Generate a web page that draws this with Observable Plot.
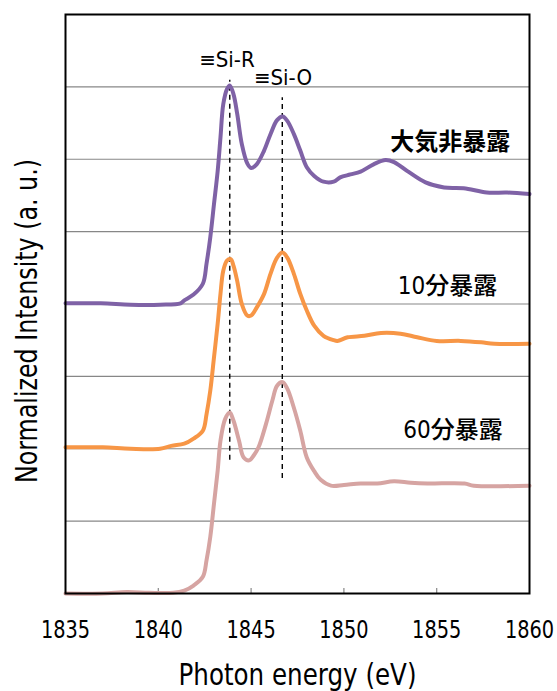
<!DOCTYPE html>
<html><head><meta charset="utf-8">
<script src="https://cdn.jsdelivr.net/npm/d3@7"></script>
<script src="https://cdn.jsdelivr.net/npm/@observablehq/plot@0.6"></script>
<style>body{margin:0;background:#fff}</style>
</head><body><div id="chart"></div>
<script>
const energyPurple = [1835,1836.9,1838.5,1840.1,1841.2,1841.4,1841.9,1842.4,1842.6,1842.8,1843.0,1843.2,1843.35,1843.5,1843.7,1843.85,1844.05,1844.25,1844.5,1844.8,1845.0,1845.3,1845.7,1846.05,1846.4,1846.7,1846.95,1847.3,1847.65,1848.0,1848.4,1848.9,1849.45,1849.8,1850.35,1850.9,1851.6,1852.25,1852.7,1853.4,1854.4,1855.4,1856.45,1857.7,1858.8,1860];
const intensityPurple = [4.01,4.01,3.99,3.99,4.01,4.05,4.13,4.28,4.56,4.92,5.38,5.84,6.30,6.76,6.97,7.02,6.90,6.63,6.21,5.94,5.88,5.93,6.12,6.35,6.54,6.59,6.53,6.35,6.12,5.89,5.77,5.69,5.69,5.75,5.79,5.83,5.93,5.99,5.96,5.84,5.68,5.61,5.60,5.54,5.54,5.52];

const energyOrange = [1835,1837,1838.5,1840.1,1840.7,1841.4,1841.9,1842.4,1842.6,1842.8,1843.0,1843.2,1843.35,1843.5,1843.7,1843.9,1844.05,1844.25,1844.5,1844.8,1845.0,1845.3,1845.7,1846.05,1846.4,1846.7,1846.95,1847.3,1847.65,1848.0,1848.4,1848.9,1849.45,1849.65,1850.2,1851.1,1852.0,1853.05,1853.95,1855.0,1856.3,1857.4,1858.1,1860];
const intensityOrange = [2.02,2.02,2.00,2.00,2.04,2.07,2.14,2.25,2.48,2.80,3.26,3.73,4.14,4.46,4.60,4.62,4.53,4.32,4.00,3.84,3.84,3.95,4.14,4.42,4.64,4.71,4.64,4.42,4.14,3.91,3.70,3.56,3.50,3.49,3.54,3.56,3.60,3.59,3.54,3.49,3.49,3.47,3.45,3.45];

const energyPink = [1835,1837,1838.3,1839.5,1840.8,1841.4,1841.9,1842.4,1842.6,1842.8,1843.0,1843.2,1843.35,1843.6,1843.85,1844.05,1844.35,1844.6,1844.9,1845.15,1845.4,1845.8,1846.15,1846.4,1846.7,1846.95,1847.3,1847.65,1848.0,1848.4,1848.75,1849.3,1850.0,1850.9,1851.8,1852.7,1853.6,1854.5,1856.5,1857.0,1860];
const intensityPink = [0.00,0.00,0.02,0.01,0.01,0.04,0.11,0.23,0.46,0.78,1.24,1.70,2.11,2.41,2.50,2.39,2.11,1.88,1.84,1.91,2.02,2.34,2.67,2.87,2.92,2.83,2.57,2.25,1.88,1.69,1.57,1.49,1.50,1.52,1.52,1.55,1.53,1.52,1.52,1.49,1.49];

const seriesNames = ["大気非暴露", "10分暴露", "60分暴露"];
const seriesColors = ["#7f62a6", "#f79646", "#d6a4a2"];
const seriesLabelX = [1852.5, 1852.9, 1853.2];
const seriesLabelY = [6.23, 4.25, 2.25];

const peakNames = ["≡Si-R", "≡Si-O"];
const peakEnergy = [1843.85, 1846.68];
const peakLineBottom = [1.84, 1.59];
const peakLineTop = [7.09, 6.85];
const peakLabelX = [1842.2, 1845.15];
const peakLabelY = [7.27, 7.02];

const xTicks = [1835, 1840, 1845, 1850, 1855, 1860];
const innerTicks = [1840, 1845, 1850, 1855];
const gridY = [1, 2, 3, 4, 5, 6, 7];

const xLabel = "Photon energy (eV)";
const yLabel = "Normalized Intensity (a. u.)";

const rows = [];
[[energyPurple, intensityPurple], [energyOrange, intensityOrange], [energyPink, intensityPink]].forEach(([E, V], k) => {
  E.forEach((e, i) => rows.push({e, v: V[i], s: seriesNames[k]}));
});
const peaks = peakNames.map((n, i) => ({n, x: peakEnergy[i], y1: peakLineBottom[i], y2: peakLineTop[i], lx: peakLabelX[i], ly: peakLabelY[i]}));
const labels = seriesNames.map((n, i) => ({n, x: seriesLabelX[i], y: seriesLabelY[i]}));

const FONT = '"DejaVu Sans Condensed", Roboto, "Noto Sans CJK JP", sans-serif';

const chart = Plot.plot({
  width: 557, height: 691,
  marginLeft: 65, marginRight: 28, marginTop: 14, marginBottom: 98,
  x: {domain: [1835, 1860]},
  y: {domain: [0, 8], axis: null},
  color: {domain: seriesNames, range: seriesColors},
  style: {fontFamily: FONT, background: "white", color: "black"},
  marks: [
    Plot.ruleY(gridY, {stroke: "#878787", strokeWidth: 1.2}),
    Plot.tickX(innerTicks, {x: d => d, insetTop: 574, stroke: "#888", strokeWidth: 1.2}),
    Plot.ruleX(peaks, {x: "x", y1: "y1", y2: "y2", stroke: "black", strokeWidth: 1.4, strokeDasharray: "5,4"}),
    Plot.line(rows, {x: "e", y: "v", z: "s", stroke: "s", strokeWidth: 4, curve: "catmull-rom"}),
    Plot.frame({stroke: "black", strokeWidth: 2}),
    Plot.axisX({ticks: xTicks, tickSize: 0, tickPadding: 27, tickFormat: d => String(d), fontSize: 25, label: null}),
    Plot.text(peaks, {x: "lx", y: "ly", text: "n", textAnchor: "start", lineAnchor: "bottom", fontSize: 21, fill: "black"}),
    Plot.text(labels.slice(0,1), {x: "x", y: "y", text: "n", textAnchor: "start", lineAnchor: "middle", fontSize: 24, fontWeight: "bold", fill: "black"}),
    Plot.text(labels.slice(1), {x: "x", y: "y", text: "n", textAnchor: "start", lineAnchor: "middle", fontSize: 24, fontWeight: 500, fill: "black"}),
    Plot.text([xLabel], {text: d => d, frameAnchor: "bottom", dy: 91, lineAnchor: "bottom", fontSize: 30, fill: "black"}),
    Plot.text([yLabel], {text: d => d, frameAnchor: "left", rotate: -90, dx: -38, dy: 17, lineAnchor: "middle", fontSize: 30, fill: "black"})
  ]
});
document.getElementById("chart").appendChild(chart);

// condense the Latin lettering to the narrow face of the original
function fit(t, len, centre) {
  t.setAttribute("textLength", len);
  t.setAttribute("lengthAdjust", "spacingAndGlyphs");
  if (centre) {
    t.setAttribute("text-anchor", "start");
    t.setAttribute("x", -len / 2);
  }
}
const allText = Array.from(chart.querySelectorAll("text"));
allText.forEach(t => {
  const s = t.textContent;
  if (xTicks.map(String).includes(s)) fit(t, t.getComputedTextLength() * 0.86);
  else if (s === xLabel) fit(t, 238);
  else if (s === yLabel) fit(t, 324, true);
  else if (peakNames.includes(s)) fit(t, t.getComputedTextLength() * 1.05);
});
</script>
</body></html>
